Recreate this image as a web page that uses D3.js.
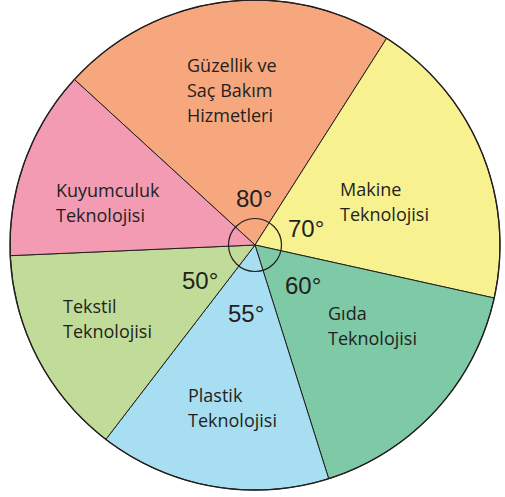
<!DOCTYPE html>
<html>
<head>
<meta charset="utf-8">
<script src="https://cdn.jsdelivr.net/npm/d3@7"></script>
<style>
  body { margin: 0; background: #fff; }
  svg { display: block; }
  .name { font-family: "Open Sans", sans-serif; font-size: 18px; fill: #231f20; }
  .deg { font-family: "Liberation Sans", Arial, sans-serif; font-size: 24px; fill: #231f20; }
</style>
</head>
<body>
<svg id="chart" width="505" height="497"></svg>
<script>
// slices, clockwise starting at the upper-left edge of Güzellik
const categories = ["Güzellik ve Saç Bakım Hizmetleri", "Makine Teknolojisi", "Gıda Teknolojisi",
                    "Plastik Teknolojisi", "Tekstil Teknolojisi", "Kuyumculuk Teknolojisi"];
const labelLines = [["Güzellik ve", "Saç Bakım", "Hizmetleri"], ["Makine", "Teknolojisi"], ["Gıda", "Teknolojisi"],
                    ["Plastik", "Teknolojisi"], ["Tekstil", "Teknolojisi"], ["Kuyumculuk", "Teknolojisi"]];
const degrees = [80, 70, 60, 55, 50, 45];
const degreeShown = [true, true, true, true, true, false];
const colors = ["#f6a77d", "#f7f190", "#7ec9a6", "#a8def2", "#c0dc98", "#f29bb2"];

var cx = 255, cy = 245, R = 245;
var svg = d3.select("#chart");
var g = svg.append("g").attr("transform", "translate(" + cx + "," + cy + ")");

var rad = d => d * Math.PI / 180;
var pie = d3.pie().sort(null).value(d => d)
    .startAngle(rad(-47.5)).endAngle(rad(312.5));
var arcs = pie(degrees);
var arc = d3.arc().innerRadius(0).outerRadius(R);

g.selectAll("path.slice").data(arcs).enter().append("path")
    .attr("class", "slice")
    .attr("d", arc)
    .attr("fill", (d, i) => colors[i])
    .attr("stroke", "#231f20")
    .attr("stroke-width", 1)
    .attr("stroke-linejoin", "round");

g.append("circle").attr("r", R).attr("fill", "none")
    .attr("stroke", "#231f20").attr("stroke-width", 1.4);

// small angle marker round the centre
g.append("circle").attr("r", 26.5).attr("fill", "none")
    .attr("stroke", "#231f20").attr("stroke-width", 1.2);

// label anchors (left edge / first baseline), relative to the centre
var nameOffsets = [[-68, -173], [85, -49], [73, 75], [-67, 157], [-192, 68], [-199, -48]];
var lineGap = 25;

var names = g.selectAll("text.name").data(arcs).enter().append("text")
    .attr("class", "name")
    .attr("x", (d, i) => nameOffsets[i][0])
    .attr("y", (d, i) => nameOffsets[i][1]);
names.each(function(d, i) {
    d3.select(this).selectAll("tspan").data(labelLines[i]).enter().append("tspan")
        .attr("x", nameOffsets[i][0])
        .attr("dy", (t, j) => j === 0 ? 0 : lineGap)
        .text(t => t);
});

var degOffsets = [[-19, -38], [33, -8], [30, 49], [-27, 77], [-73, 44], [0, 0]];
g.selectAll("text.deg").data(arcs.filter((d, i) => degreeShown[i])).enter().append("text")
    .attr("class", "deg")
    .attr("x", d => degOffsets[d.index][0])
    .attr("y", d => degOffsets[d.index][1])
    .text(d => d.data + "°");
</script>
</body>
</html>
